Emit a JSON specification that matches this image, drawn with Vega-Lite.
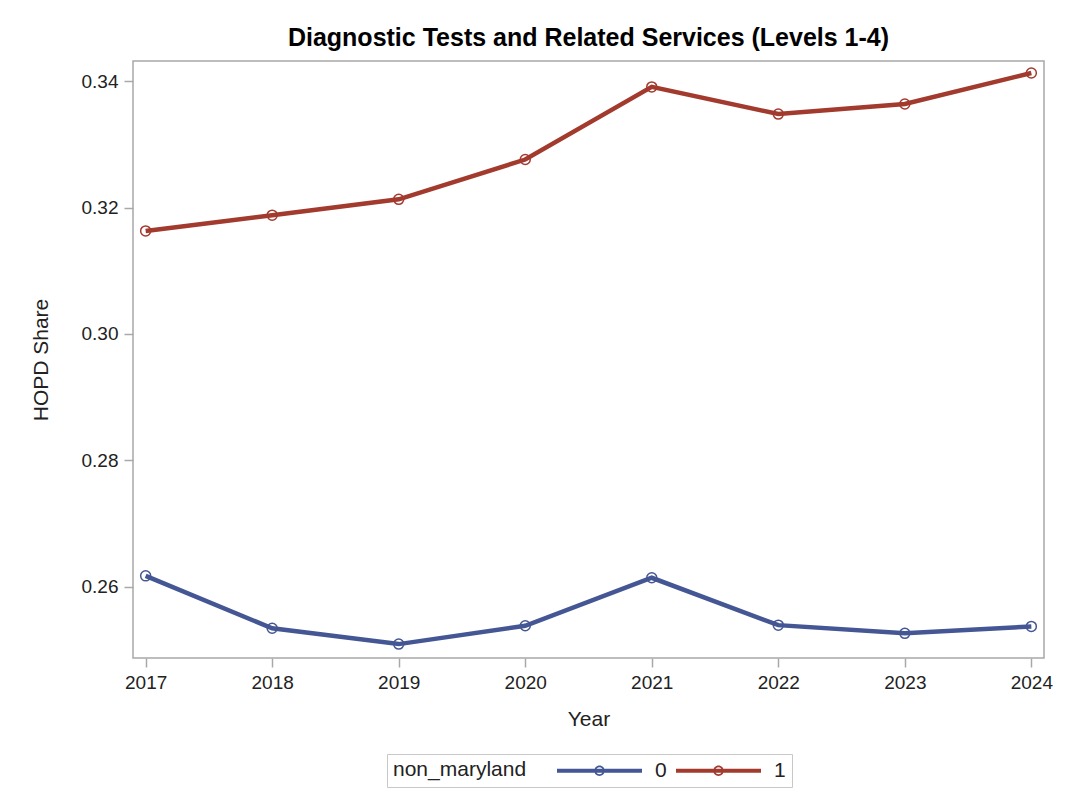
{
  "$schema": "https://vega.github.io/schema/vega-lite/v6.json",
  "width": 911,
  "height": 597,
  "autosize": {"type": "none"},
  "padding": {"left": 133, "top": 61, "right": 24, "bottom": 138},
  "background": "white",
  "config": {
    "font": "Liberation Sans",
    "view": {"stroke": "#A8A8A8", "strokeWidth": 1.5},
    "axis": {
      "domain": false,
      "grid": false,
      "tickColor": "#A8A8A8",
      "tickWidth": 1.5,
      "tickSize": 9,
      "labelFontSize": 19,
      "labelColor": "#222222",
      "titleFontSize": 21,
      "titleFontWeight": "normal",
      "titleColor": "#222222",
      "labelPadding": 6
    }
  },
  "title": {
    "text": "Diagnostic Tests and Related Services (Levels 1-4)",
    "fontSize": 25,
    "fontWeight": "bold",
    "color": "#000000",
    "offset": 10,
    "anchor": "middle"
  },
  "data": {
    "values": [
      {"Year": 2017, "non_maryland": "0", "share": 0.2617},
      {"Year": 2018, "non_maryland": "0", "share": 0.2534},
      {"Year": 2019, "non_maryland": "0", "share": 0.2509},
      {"Year": 2020, "non_maryland": "0", "share": 0.2538},
      {"Year": 2021, "non_maryland": "0", "share": 0.2614},
      {"Year": 2022, "non_maryland": "0", "share": 0.2539},
      {"Year": 2023, "non_maryland": "0", "share": 0.2526},
      {"Year": 2024, "non_maryland": "0", "share": 0.2537},
      {"Year": 2017, "non_maryland": "1", "share": 0.3163},
      {"Year": 2018, "non_maryland": "1", "share": 0.3188},
      {"Year": 2019, "non_maryland": "1", "share": 0.3213},
      {"Year": 2020, "non_maryland": "1", "share": 0.3276},
      {"Year": 2021, "non_maryland": "1", "share": 0.3391},
      {"Year": 2022, "non_maryland": "1", "share": 0.3348},
      {"Year": 2023, "non_maryland": "1", "share": 0.3364},
      {"Year": 2024, "non_maryland": "1", "share": 0.3413}
    ]
  },
  "encoding": {
    "x": {
      "field": "Year",
      "type": "quantitative",
      "scale": {"domain": [2016.9, 2024.1], "nice": false, "zero": false},
      "axis": {"values": [2017, 2018, 2019, 2020, 2021, 2022, 2023, 2024], "format": "d", "title": "Year", "titlePadding": 16, "labelFlush": false}
    },
    "y": {
      "field": "share",
      "type": "quantitative",
      "scale": {"domain": [0.2487, 0.3432], "nice": false, "zero": false},
      "axis": {"values": [0.26, 0.28, 0.30, 0.32, 0.34], "format": ".2f", "title": "HOPD Share", "titlePadding": 30, "labelFlush": false}
    },
    "color": {
      "field": "non_maryland",
      "type": "nominal",
      "scale": {"domain": ["0", "1"], "range": ["#445694", "#A23A2E"]},
      "legend": {
        "orient": "none",
        "legendX": 254,
        "legendY": 693,
        "direction": "horizontal",
        "title": "non_maryland",
        "titleOrient": "left",
        "titleFontSize": 21,
        "titleFontWeight": "normal",
        "titleColor": "#222222",
        "titlePadding": 62,
        "labelFontSize": 21,
        "labelColor": "#222222",
        "labelOffset": 45,
        "columnPadding": 9,
        "strokeColor": "#C8C8C8",
        "padding": 6,
        "symbolSize": 400,
        "symbolType": "M-4.25,-0.2H4.25V0.2H-4.25Z M0.52,0A0.52,0.52 0 1 1 -0.52,0A0.52,0.52 0 1 1 0.52,0Z M0.36,0A0.36,0.36 0 1 0 -0.36,0A0.36,0.36 0 1 0 0.36,0Z",
        "encode": {
          "symbols": {
            "update": {
              "fill": {"scale": "color", "field": "value"},
              "stroke": {"value": "transparent"},
              "strokeWidth": {"value": 0},
              "opacity": {"value": 1}
            }
          }
        }
      }
    }
  },
  "layer": [
    {"mark": {"type": "line", "strokeWidth": 4.5}},
    {"mark": {"type": "point", "shape": "circle", "filled": false, "size": 100, "strokeWidth": 1.5, "opacity": 1}}
  ]
}
